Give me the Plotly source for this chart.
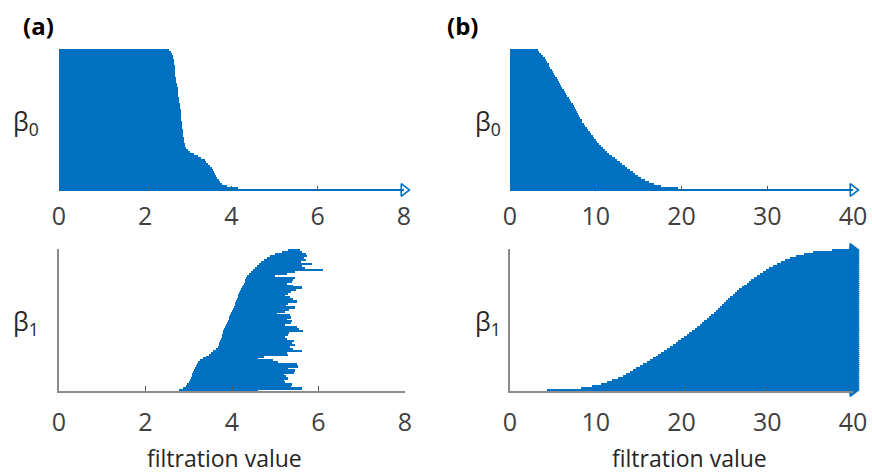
import plotly.graph_objects as go

W, H = 872, 473
BLUE = "#0070C0"
GRAY = "#8c8c8c"
FONT = "Open Sans"

# ---------------- data (bars listed bottom -> top) ----------------
# (a) beta0: all bars born at 0; death values (None = never dies)
a_b0_birth = [0.0] * 71
a_b0_death = [None, 4.15, 3.90, 3.78, 3.74, 3.70, 3.67, 3.65, 3.62, 3.60,
              3.58, 3.55, 3.50, 3.46, 3.42, 3.38, 3.30, 3.22, 3.12, 3.03,
              2.98, 2.95, 2.93, 2.92, 2.91, 2.90, 2.89, 2.88, 2.88, 2.87,
              2.87, 2.86, 2.86, 2.85, 2.85, 2.84, 2.84, 2.83, 2.83, 2.82,
              2.82, 2.81, 2.80, 2.80, 2.79, 2.79, 2.78, 2.77, 2.77, 2.76,
              2.75, 2.75, 2.74, 2.73, 2.72, 2.72, 2.71, 2.70, 2.70, 2.69,
              2.69, 2.68, 2.68, 2.67, 2.66, 2.66, 2.65, 2.64, 2.62, 2.59,
              2.54]

# (a) beta1
a_b1_birth = [2.78, 2.86, 2.93, 2.97, 3.00, 3.03, 3.05, 3.07, 3.08, 3.10,
              3.12, 3.14, 3.16, 3.18, 3.22, 3.27, 3.32, 3.40, 3.47, 3.52,
              3.57, 3.63, 3.67, 3.69, 3.71, 3.73, 3.74, 3.76, 3.77, 3.79,
              3.80, 3.82, 3.84, 3.86, 3.88, 3.90, 3.92, 3.94, 3.96, 3.98,
              4.00, 4.02, 4.04, 4.06, 4.08, 4.10, 4.11, 4.13, 4.15, 4.17,
              4.19, 4.21, 4.23, 4.25, 4.27, 4.29, 4.31, 4.33, 4.35, 4.39,
              4.43, 4.48, 4.53, 4.57, 4.62, 4.68, 4.74, 4.80, 4.88, 5.00,
              5.15, 5.30]
a_b1_death = [4.60, 5.62, 5.36, 5.38, 5.22, 5.20, 5.30, 5.24, 5.21, 5.44,
              5.45, 5.30, 5.52, 5.50, 5.06, 4.95, 4.60, 4.75, 5.30, 5.28,
              5.62, 5.40, 5.35, 5.46, 5.38, 5.44, 5.26, 5.22, 5.30, 5.32,
              5.63, 5.55, 5.50, 5.22, 5.36, 5.38, 5.28, 5.36, 5.34, 5.05,
              5.22, 5.32, 5.45, 5.24, 5.30, 5.50, 5.40, 5.35, 5.22, 5.30,
              5.36, 5.48, 5.62, 5.40, 5.26, 5.38, 5.42, 5.46, 5.00, 5.28,
              5.45, 6.10, 5.68, 5.62, 5.85, 5.60, 5.70, 5.66, 5.74, 5.72,
              5.62, 5.58]

# (b) beta0
b_b0_birth = [0.0] * 71
b_b0_death = [None, 19.6, 17.6, 16.8, 16.2, 15.7, 15.3, 14.9, 14.6, 14.3,
              14.0, 13.7, 13.4, 13.1, 12.8, 12.45, 12.2, 11.9, 11.6, 11.3,
              11.05, 10.85, 10.6, 10.4, 10.2, 10.0, 9.8, 9.65, 9.5, 9.3,
              9.15, 8.95, 8.8, 8.6, 8.45, 8.35, 8.2, 8.1, 7.95, 7.85,
              7.75, 7.6, 7.45, 7.3, 7.15, 7.0, 6.85, 6.7, 6.55, 6.4,
              6.25, 6.1, 5.95, 5.8, 5.7, 5.6, 5.45, 5.3, 5.15, 5.0,
              4.85, 4.7, 4.6, 4.5, 4.35, 4.2, 4.05, 3.85, 3.6, 3.4,
              3.3]

# (b) beta1: all bars persist (None = never dies)
b_b1_birth = [4.3, 8.3, 9.6, 10.6, 11.35, 11.95, 12.55, 13.15, 13.55, 13.95,
              14.35, 14.75, 15.15, 15.55, 15.95, 16.3, 16.65, 17.0, 17.3, 17.6,
              17.95, 18.3, 18.6, 18.95, 19.3, 19.6, 19.9, 20.25, 20.6, 20.9,
              21.25, 21.55, 21.8, 22.1, 22.4, 22.65, 22.95, 23.2, 23.45, 23.75,
              24.0, 24.25, 24.5, 24.75, 24.95, 25.2, 25.45, 25.7, 25.95, 26.2,
              26.45, 26.7, 27.0, 27.3, 27.6, 27.85, 28.15, 28.5, 28.85, 29.2,
              29.55, 29.9, 30.25, 30.7, 31.15, 31.6, 32.1, 32.6, 33.4, 34.3,
              35.3, 37.5]
b_b1_death = [None] * 72

a_ticks = [0, 2, 4, 6, 8]
b_ticks = [0, 10, 20, 30, 40]
a_max, b_max = 8, 40

panels = [
    # births, deaths, xmax, ticks, x-domain px, y-domain px (top,bottom), bottom panel?, arrow style
    (a_b0_birth, a_b0_death, a_max, a_ticks, (59, 404), (49, 191), False, "triangle-right-open"),
    (a_b1_birth, a_b1_death, a_max, a_ticks, (59, 405), (249, 391), True, "triangle-right"),
    (b_b0_birth, b_b0_death, b_max, b_ticks, (510, 853), (49, 191), False, "triangle-right-open"),
    (b_b1_birth, b_b1_death, b_max, b_ticks, (510, 853), (249, 391), True, "triangle-right"),
]

fig = go.Figure()
layout = dict(
    width=W, height=H, margin=dict(l=0, r=0, t=0, b=0, autoexpand=False),
    paper_bgcolor="white", plot_bgcolor="rgba(0,0,0,0)",
    showlegend=False, bargap=0, barmode="overlay",
    font=dict(family=FONT, color="#404040"),
)

for k, (births, deaths, xmax, ticks, (x0, x1), (yt, yb), bottom, sym) in enumerate(panels, start=1):
    xa = "x" if k == 1 else f"x{k}"
    ya = "y" if k == 1 else f"y{k}"
    n = len(births)
    idx = list(range(n))
    ends = [xmax if d is None else d for d in deaths]
    fig.add_trace(go.Bar(
        orientation="h", y=idx, base=births,
        x=[e - b for b, e in zip(births, ends)],
        marker=dict(color=BLUE, line=dict(width=0)), width=1.0,
        xaxis=xa, yaxis=ya, hoverinfo="skip",
    ))
    inf_idx = [i for i, d in enumerate(deaths) if d is None]
    if inf_idx:
        fig.add_trace(go.Scatter(
            x=[xmax] * len(inf_idx), y=inf_idx, mode="markers",
            marker=dict(symbol=sym, size=11, color=BLUE,
                        line=dict(color=BLUE, width=1.6)),
            cliponaxis=False, xaxis=xa, yaxis=ya, hoverinfo="skip",
        ))
    xkey = "xaxis" if k == 1 else f"xaxis{k}"
    ykey = "yaxis" if k == 1 else f"yaxis{k}"
    layout[xkey] = dict(
        domain=[x0 / W, x1 / W], anchor=ya, range=[0, xmax],
        tickmode="array", tickvals=ticks, ticktext=[str(t) for t in ticks],
        ticks="inside", ticklen=5, tickcolor="#555555", tickwidth=1,
        showline=bottom, linecolor=GRAY, linewidth=1.5,
        showgrid=False, zeroline=False, automargin=False,
        ticklabelstandoff=8,
        tickfont=dict(family=FONT, size=25, color="#404040"),
        fixedrange=True,
    )
    layout[ykey] = dict(
        domain=[1 - yb / H, 1 - yt / H], anchor=xa, range=[-0.5, n - 0.5],
        showticklabels=False, ticks="", showgrid=False, zeroline=False,
        showline=bottom, linecolor=GRAY, linewidth=1.5, fixedrange=True,
        automargin=False,
    )

ann = []
def txt(x, y, s, size, bold=False, color="#262626"):
    ann.append(dict(x=x / W, y=1 - y / H, xref="paper", yref="paper",
                    text=(f"<b>{s}</b>" if bold else s), showarrow=False,
                    xanchor="center", yanchor="middle",
                    font=dict(family=FONT, size=size, color=color)))

txt(38, 26, "(a)", 24, bold=True, color="#000000")
txt(462, 26, "(b)", 24, bold=True, color="#000000")
txt(26, 122, "β<sub>0</sub>", 25)
txt(488, 122, "β<sub>0</sub>", 25)
txt(26, 322, "β<sub>1</sub>", 25)
txt(488, 322, "β<sub>1</sub>", 25)
txt(224, 458, "filtration value", 23)
txt(689, 458, "filtration value", 23)
layout["annotations"] = ann

fig.update_layout(**layout)
fig.write_html("out.html")
